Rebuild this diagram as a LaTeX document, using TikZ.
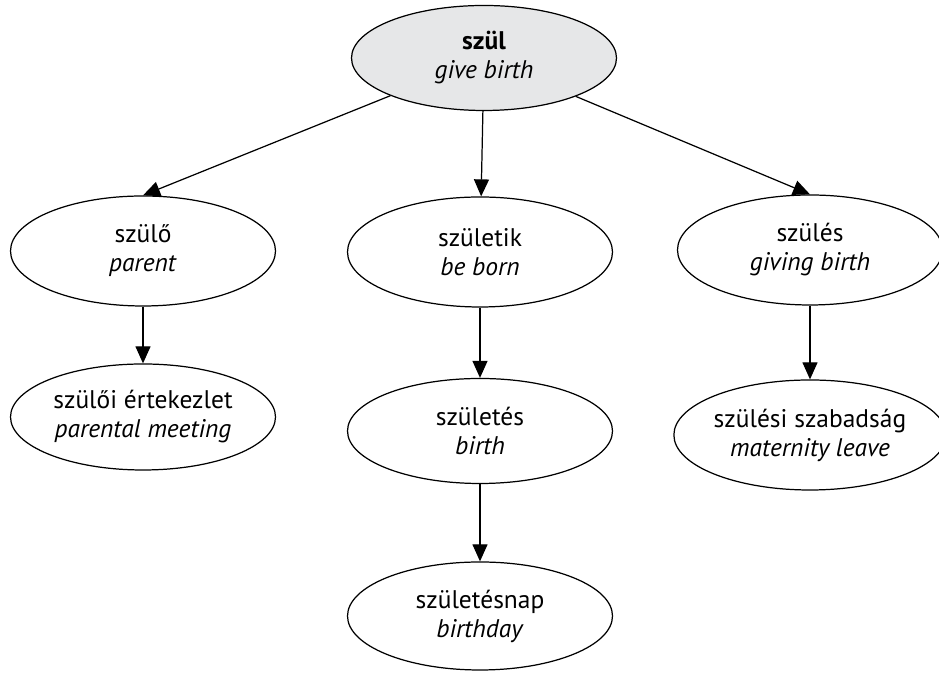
\documentclass[tikz,border=0pt]{standalone}
\usepackage{fontspec}
\setmainfont{PT Sans}
\usepackage{tikz}
\usetikzlibrary{arrows.meta, shapes.geometric}
\definecolor{rootgray}{HTML}{E6E7E8}

\begin{document}
\begin{tikzpicture}[
	word/.style={ellipse, draw, line width=0.7pt, inner sep=0pt, minimum width=5.3cm, minimum height=2.2cm, align=center, font=\fontsize{14.5}{16.5}\selectfont},
	derive/.style={-{Triangle[length=0.34cm, width=0.3cm]}, line width=0.7pt}
	]
	\useasboundingbox (0,0) rectangle (18.78,13.46);
	\node[word, fill=rootgray, minimum height=2.1cm] (szul) at (9.68,12.3) {\textbf{szül}\\ \textit{give birth}};
	
	\node[word] (szulo) at (2.86,8.44) {szülő\\ \textit{parent}};
	\node[word] (szuletik) at (9.6,8.42) {születik\\ \textit{be born}};
	\node[word] (szules) at (16.2,8.46) {szülés\\ \textit{giving birth}};
	
	\node[word, minimum height=2.12cm] (ertekezlet) at (2.86,5.12) {szülői értekezlet\\ \textit{parental meeting}};
	\node[word, minimum height=2.1cm] (szuletes) at (9.6,4.84) {születés\\ \textit{birth}};
	\node[word] (szabadsag) at (16.2,4.76) {szülési szabadság\\ \textit{maternity leave}};
	\node[word, minimum height=2.16cm] (szuletesnap) at (9.6,1.14) {születésnap\\ \textit{birthday}};
	
	\draw[derive] (szul) -- (szulo.north);
	\draw[derive] (szul) -- (szuletik);
	\draw[derive] (szul) -- (szules.north);
	\draw[derive] (szulo) -- (ertekezlet);
	\draw[derive] (szuletik) -- (szuletes);
	\draw[derive] (szules) -- (szabadsag);
	\draw[derive] (szuletes) -- (szuletesnap);
\end{tikzpicture}
\end{document}
